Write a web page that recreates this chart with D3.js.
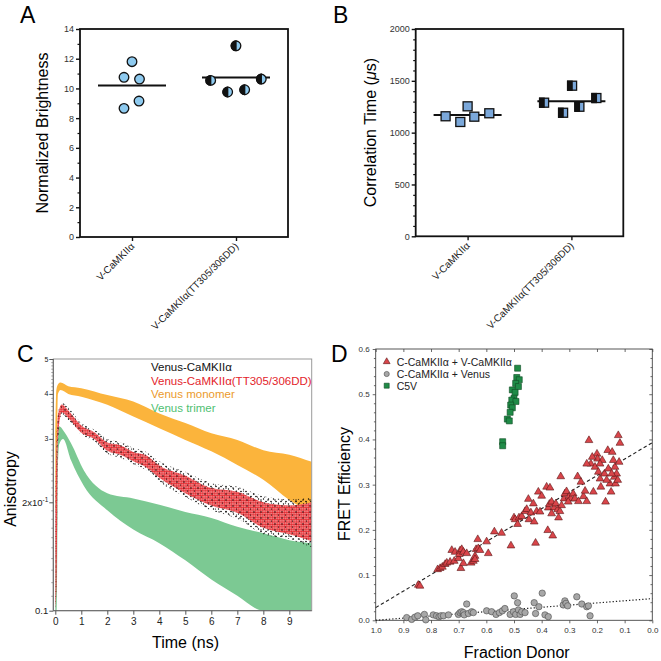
<!DOCTYPE html>
<html><head><meta charset="utf-8">
<script src="https://cdn.jsdelivr.net/npm/d3@7"></script>
<style>
body{margin:0;background:#fff}
svg{display:block}
text{font-family:"Liberation Sans",Arial,Helvetica,sans-serif}
</style>
</head><body>
<svg id="c" width="661" height="661"></svg>
<script>
// ================= DATA =================
// Panels A & B
const categories = ["V-CaMKIIα", "V-CaMKIIα(TT305/306DD)"];
const brightnessWT = [11.8, 10.75, 10.63, 9.15, 8.66];
const brightnessDD = [12.87, 10.54, 9.76, 9.91, 10.63];
const corrTimeWT = [1158, 1103, 1254, 1154, 1187];
const corrTimeDD = [1289, 1453, 1192, 1250, 1334];
const brightnessTicks = [0, 2, 4, 6, 8, 10, 12, 14];
const corrTimeTicks = [0, 500, 1000, 1500, 2000];

// Panel C : anisotropy decays (time in ns, lower / upper envelope of the noisy trace)
const monomerTime = [0, 0.04, 0.1, 0.2, 0.5, 1, 2, 3, 4, 5, 6, 7, 8, 9, 9.86];
const monomerLow  = [0.19, 0.19, 0.40, 0.41, 0.40, 0.393, 0.373, 0.346, 0.321, 0.298, 0.277, 0.254, 0.231, 0.203, 0.187];
const monomerHigh = [0.30, 0.41, 0.425, 0.43, 0.42, 0.415, 0.397, 0.381, 0.353, 0.332, 0.311, 0.298, 0.279, 0.271, 0.259];

const trimerTime = [0, 0.06, 0.1, 0.15, 0.3, 0.6, 1.1, 2, 3, 4, 5, 6, 7, 8, 9, 9.86];
const trimerLow  = [0.10, 0.10, 0.25, 0.29, 0.30, 0.262, 0.222, 0.19, 0.168, 0.154, 0.138, 0.122, 0.11, 0.10, 0.10, 0.10];
const trimerHigh = [0.16, 0.29, 0.315, 0.325, 0.317, 0.292, 0.245, 0.212, 0.205, 0.197, 0.188, 0.181, 0.171, 0.164, 0.157, 0.154];

const camkTime = [0, 0.05, 0.1, 0.25, 0.5, 1, 1.5, 2, 2.5, 3, 3.5, 4, 5, 6, 7, 8, 9, 9.86];
const camkWTLow  = [0.10, 0.12, 0.29, 0.352, 0.338, 0.308, 0.296, 0.273, 0.266, 0.255, 0.245, 0.228, 0.207, 0.19, 0.18, 0.163, 0.158, 0.15];
const camkWTHigh = [0.20, 0.30, 0.35, 0.378, 0.366, 0.332, 0.318, 0.30, 0.294, 0.283, 0.276, 0.26, 0.243, 0.226, 0.221, 0.208, 0.204, 0.206];
const camkDDLow  = [0.10, 0.12, 0.30, 0.355, 0.343, 0.312, 0.300, 0.278, 0.271, 0.26, 0.25, 0.234, 0.212, 0.196, 0.187, 0.17, 0.163, 0.156];
const camkDDHigh = [0.19, 0.29, 0.348, 0.374, 0.36, 0.327, 0.313, 0.293, 0.288, 0.276, 0.27, 0.253, 0.237, 0.219, 0.214, 0.2, 0.196, 0.2];

const timeTicks = [0, 1, 2, 3, 4, 5, 6, 7, 8, 9];
const anisoTicks = [0.1, 0.2, 0.3, 0.4, 0.5];
const anisoTickLabels = ["0.1", "2x10", "3", "4", "5"];

const legendC = ["Venus-CaMKIIα", "Venus-CaMKIIα(TT305/306DD)", "Venus monomer", "Venus trimer"];

// Panel D : FRET efficiency vs fraction donor
const cvDonor = [0.846,0.84,0.776,0.767,0.759,0.749,0.743,0.731,0.725,0.713,0.716,0.701,0.698,0.695,0.689,0.683,0.692,0.683,0.671,0.655,0.647,0.641,0.637,0.631,0.629,0.623,0.641,0.593,0.599,0.571,0.545,0.511,0.5,0.496,0.487,0.482,0.472,0.46,0.454,0.448,0.446,0.439,0.43,0.427,0.422,0.418,0.412,0.406,0.4,0.382,0.378,0.376,0.372,0.37,0.364,0.36,0.355,0.349,0.342,0.334,0.328,0.331,0.319,0.316,0.31,0.301,0.294,0.286,0.28,0.27,0.267,0.258,0.249,0.243,0.237,0.229,0.222,0.213,0.207,0.2,0.198,0.195,0.189,0.186,0.181,0.173,0.169,0.161,0.159,0.153,0.149,0.145,0.141,0.137,0.135,0.133,0.129,0.123,0.12,0.117,0.237,0.217,0.189,0.147,0.125,0.165,0.339,0.364,0.304];
const cvFret  = [0.078,0.076,0.1125,0.115,0.118,0.124,0.127,0.129,0.155,0.151,0.131,0.137,0.146,0.154,0.157,0.151,0.115,0.126,0.148,0.127,0.131,0.142,0.157,0.179,0.159,0.155,0.135,0.148,0.174,0.196,0.193,0.165,0.227,0.223,0.2125,0.227,0.23,0.241,0.2456,0.268,0.223,0.238,0.258,0.218,0.171,0.241,0.284,0.24,0.275,0.295,0.199,0.249,0.257,0.293,0.262,0.187,0.249,0.258,0.245,0.241,0.254,0.318,0.269,0.28,0.285,0.273,0.269,0.28,0.269,0.318,0.263,0.306,0.274,0.286,0.263,0.398,0.346,0.284,0.339,0.368,0.357,0.328,0.313,0.295,0.354,0.324,0.262,0.376,0.335,0.302,0.284,0.372,0.354,0.317,0.339,0.302,0.324,0.409,0.35,0.392,0.346,0.361,0.346,0.324,0.31,0.31,0.227,0.236,0.262];

const cvenDonor = [0.888,0.87,0.858,0.848,0.824,0.819,0.792,0.78,0.771,0.764,0.755,0.737,0.701,0.695,0.689,0.683,0.68,0.671,0.665,0.653,0.647,0.599,0.581,0.565,0.553,0.542,0.533,0.514,0.502,0.499,0.494,0.487,0.484,0.478,0.472,0.46,0.427,0.422,0.41,0.398,0.388,0.376,0.322,0.316,0.312,0.306,0.273,0.255,0.237,0.231,0.225];
const cvenFret  = [0.006,0.002,0.007,0.01,0.013,0.001,0.012,0.01,0.008,0.01,0.01,0.012,0.013,0.017,0.019,0.017,0.012,0.036,0.015,0.019,0.017,0.021,0.019,0.013,0.017,0.021,0.026,0.013,0.019,0.054,0.013,0.039,0.023,0.013,0.019,0.017,0.039,0.015,0.03,0.06,0.012,0.008,0.034,0.043,0.0375,0.032,0.052,0.036,0.03,0.032,0.01];

const c5vDonor = [0.487,0.49,0.481,0.494,0.484,0.506,0.496,0.5,0.508,0.493,0.512,0.506,0.514,0.524,0.517,0.541,0.541];
const c5vFret  = [0.5575,0.537,0.532,0.524,0.517,0.5095,0.504,0.491,0.487,0.484,0.476,0.47,0.46,0.445,0.441,0.395,0.386];

const fitLineCV    = [[1.0, 0.028], [0.0, 0.393]];
const fitLineCVenus = [[1.0, 0.0], [0.0, 0.048]];

const donorTicks = [1.0, 0.9, 0.8, 0.7, 0.6, 0.5, 0.4, 0.3, 0.2, 0.1, 0.0];
const fretTicks = [0.0, 0.1, 0.2, 0.3, 0.4, 0.5, 0.6];
const legendD = ["C-CaMKIIα + V-CaMKIIα", "C-CaMKIIα + Venus", "C5V"];

// ================= DRAWING =================
const svg = d3.select("#c");
const defs = svg.append("defs");

function letter(t, x, y) {
  svg.append("text").attr("x", x).attr("y", y).attr("font-size", 23).attr("fill", "#000").text(t);
}
function styleAxis(g, fs, col) {
  g.select(".domain").remove();
  g.selectAll(".tick text").attr("font-size", fs).attr("fill", col || "#222")
    .attr("font-family", '"Liberation Sans",Arial,sans-serif');
  g.selectAll(".tick line").attr("stroke", "#111");
}

// ---------- Panel A & B (dot plots) ----------
function dotPanel(opts) {
  const { x0, x1, yTop, yBot, domainMax, ticks, minor, wt, dd, shape, fill, jWT, jDD, ylabel, ylx } = opts;
  const xs = d3.scalePoint().domain(categories).range([x0, x1]).padding(0.5);
  const ys = d3.scaleLinear().domain([0, domainMax]).range([yBot, yTop]);
  const g = svg.append("g");
  const ya = g.append("g").attr("transform", `translate(${x0},0)`)
    .call(d3.axisLeft(ys).tickValues(ticks).tickSize(4).tickPadding(2).tickFormat(d3.format("d")));
  styleAxis(ya, 9, "#333");
  ya.selectAll(".tick line").attr("stroke-width", 1.4);
  const ym = g.append("g").attr("transform", `translate(${x0},0)`)
    .call(d3.axisLeft(ys).tickValues(minor).tickSize(2.5).tickFormat(""));
  styleAxis(ym, 9);
  ym.selectAll(".tick line").attr("stroke-width", 1.2);
  const xa = g.append("g").attr("transform", `translate(0,${yBot})`)
    .call(d3.axisBottom(xs).tickSize(4).tickFormat(""));
  styleAxis(xa, 9);
  xa.selectAll(".tick line").attr("stroke-width", 1.4);
  categories.forEach(c => {
    g.append("text").attr("transform", `translate(${xs(c) + 3},${yBot + 10}) rotate(-45)`)
      .attr("text-anchor", "end").attr("font-size", 10).attr("fill", "#222").text(c);
  });
  g.append("rect").attr("x", x0).attr("y", yTop).attr("width", x1 - x0).attr("height", yBot - yTop)
    .attr("fill", "none").attr("stroke", "#111").attr("stroke-width", 1.8);
  g.append("text").attr("transform", `translate(${ylx},${(yTop + yBot) / 2}) rotate(-90)`)
    .attr("text-anchor", "middle").attr("font-size", 16).attr("fill", "#000").html(ylabel);
  [[wt, categories[0]], [dd, categories[1]]].forEach(([arr, c]) => {
    const m = d3.mean(arr);
    g.append("line").attr("x1", xs(c) - 34).attr("x2", xs(c) + 34).attr("y1", ys(m)).attr("y2", ys(m))
      .attr("stroke", "#111").attr("stroke-width", 2);
  });
  function marker(cx, cy, half) {
    if (shape === "circle") {
      const r = 4.8;
      g.append("circle").attr("cx", cx).attr("cy", cy).attr("r", r).attr("fill", fill).attr("stroke", "#111").attr("stroke-width", 1.3);
      if (half) g.append("path").attr("d", `M${cx},${cy - r}A${r},${r} 0 0 0 ${cx},${cy + r}Z`).attr("fill", "#111").attr("stroke", "#111").attr("stroke-width", 1.3);
    } else {
      const s = 9;
      g.append("rect").attr("x", cx - s / 2).attr("y", cy - s / 2).attr("width", s).attr("height", s).attr("fill", fill).attr("stroke", "#111").attr("stroke-width", 1.3);
      if (half) g.append("rect").attr("x", cx - s / 2).attr("y", cy - s / 2).attr("width", s / 2).attr("height", s).attr("fill", "#111").attr("stroke", "#111").attr("stroke-width", 1.3);
    }
  }
  wt.forEach((v, i) => marker(xs(categories[0]) + jWT[i], ys(v), false));
  dd.forEach((v, i) => marker(xs(categories[1]) + jDD[i], ys(v), true));
}

dotPanel({ x0: 80, x1: 288, yTop: 29, yBot: 237, domainMax: 14, ticks: brightnessTicks,
  minor: [1, 3, 5, 7, 9, 11, 13], wt: brightnessWT, dd: brightnessDD, shape: "circle", fill: "#8ecaef",
  jWT: [0, -8, 7.5, 7, -8], jDD: [0, -25.3, -8.3, 8.7, 25.3],
  ylabel: "Normalized Brightness", ylx: 48 });
dotPanel({ x0: 415.7, x1: 623.3, yTop: 29, yBot: 236.3, domainMax: 2000, ticks: corrTimeTicks,
  minor: d3.range(100, 2000, 100).filter(v => v % 500 !== 0), wt: corrTimeWT, dd: corrTimeDD, shape: "square", fill: "#7ba8da",
  jWT: [-22, -7.3, 0, 6.7, 21.7], jDD: [-27.3, 0.7, -8.3, 8, 25],
  ylabel: 'Correlation Time (<tspan font-style="italic">μ</tspan>s)', ylx: 376 });
letter("A", 20, 23);
letter("B", 333, 23);

// ---------- Panel C ----------
{
  const L = 53.3, R = 311.7, T = 359, B = 610.7;
  const xs = d3.scaleLinear().domain([-0.077, 9.86]).range([L, R]);
  const ys = d3.scaleLog().domain([0.1, 0.5]).range([B, T]);
  defs.append("clipPath").attr("id", "clipC").append("rect").attr("x", L).attr("y", T).attr("width", R - L).attr("height", B - T);
  const pb = defs.append("pattern").attr("id", "patBlack").attr("width", 5).attr("height", 5).attr("patternUnits", "userSpaceOnUse");
  pb.append("circle").attr("cx", 1).attr("cy", 1.5).attr("r", 0.8).attr("fill", "#000");
  pb.append("circle").attr("cx", 3.5).attr("cy", 4).attr("r", 0.7).attr("fill", "#000");
  const pr = defs.append("pattern").attr("id", "patRed").attr("width", 2.4).attr("height", 2.4).attr("patternUnits", "userSpaceOnUse");
  pr.append("rect").attr("width", 2.4).attr("height", 2.4).attr("fill", "#f4a3a3");
  pr.append("circle").attr("cx", 1.2).attr("cy", 1.2).attr("r", 1.05).attr("fill", "#e3242b");
  const pb2 = defs.append("pattern").attr("id", "patBlack2").attr("width", 7).attr("height", 6).attr("patternUnits", "userSpaceOnUse");
  pb2.append("circle").attr("cx", 2).attr("cy", 2).attr("r", 0.7).attr("fill", "#000");
  pb2.append("circle").attr("cx", 5.5).attr("cy", 5).attr("r", 0.6).attr("fill", "#000");

  const g = svg.append("g");
  const plot = g.append("g").attr("clip-path", "url(#clipC)");
  function band(time, lo, hi, fill) {
    const data = time.map((t, i) => ({ t, lo: lo[i], hi: hi[i] }));
    plot.append("path").datum(data)
      .attr("d", d3.area().x(d => xs(d.t)).y0(d => ys(d.lo)).y1(d => ys(d.hi)).curve(d3.curveMonotoneX))
      .attr("fill", fill);
  }
  band(monomerTime, monomerLow, monomerHigh, "#fbb43c");
  band(trimerTime, trimerLow, trimerHigh, "#7cc993");
  band(camkTime, camkWTLow, camkWTHigh, "url(#patBlack)");
  band(camkTime, camkDDLow, camkDDHigh, "url(#patRed)");
  band(camkTime, camkWTLow, camkWTHigh, "url(#patBlack2)");

  g.append("rect").attr("x", L).attr("y", T).attr("width", R - L).attr("height", B - T)
    .attr("fill", "none").attr("stroke", "#9a9a9a").attr("stroke-width", 1);
  g.append("line").attr("x1", L).attr("x2", L).attr("y1", T).attr("y2", B).attr("stroke", "#666");
  g.append("line").attr("x1", L).attr("x2", R).attr("y1", B).attr("y2", B).attr("stroke", "#666");

  const xa = g.append("g").attr("transform", `translate(0,${B})`)
    .call(d3.axisBottom(xs).tickValues(timeTicks).tickSize(4).tickPadding(3).tickFormat(d3.format("d")));
  styleAxis(xa, 10, "#222");
  xa.selectAll(".tick line").attr("stroke", "#555");
  const minorAniso = d3.range(11, 50).map(v => v / 100).filter(v => Math.round(v * 100) % 10 !== 0);
  const ym = g.append("g").attr("transform", `translate(${L},0)`)
    .call(d3.axisLeft(ys).tickValues(minorAniso).tickSize(2).tickFormat(""));
  styleAxis(ym, 8);
  ym.selectAll(".tick line").attr("stroke", "#777").attr("stroke-width", 0.7);
  const ya = g.append("g").attr("transform", `translate(${L},0)`)
    .call(d3.axisLeft(ys).tickValues(anisoTicks).tickSize(4).tickFormat(""));
  styleAxis(ya, 8);
  ya.selectAll(".tick line").attr("stroke", "#555");
  anisoTicks.forEach((v, i) => {
    const small = i >= 2;
    const t = g.append("text").attr("x", L - 5).attr("y", ys(v) + (small ? 2.5 : 3.5))
      .attr("text-anchor", "end").attr("font-size", small ? 7 : 9.5).attr("fill", "#222").text(anisoTickLabels[i]);
    if (i === 1) t.append("tspan").attr("dy", -4).attr("font-size", 6.5).text("-1");
  });
  g.append("text").attr("x", (L + R) / 2 + 3).attr("y", 648).attr("text-anchor", "middle").attr("font-size", 16).text("Time (ns)");
  g.append("text").attr("transform", `translate(16,489) rotate(-90)`).attr("text-anchor", "middle").attr("font-size", 16).text("Anisotropy");
  const legCol = ["#111", "#e3242b", "#eb9a2c", "#4fbf72"];
  const legY = [371, 385, 398, 411.5];
  legendC.forEach((s, i) => {
    g.append("text").attr("x", 151).attr("y", legY[i]).attr("font-size", 11.5).attr("fill", legCol[i]).text(s);
  });
  letter("C", 17, 362);
}

// ---------- Panel D ----------
{
  const L = 375.7, R = 652.3, T = 349, B = 620.3;
  const xs = d3.scaleLinear().domain([1, 0]).range([L, R]);
  const ys = d3.scaleLinear().domain([0, 0.6]).range([B, T]);
  const g = svg.append("g");
  const minorF = d3.range(1, 30).map(v => v * 0.02).filter(v => Math.round(v * 100) % 10 !== 0);

  const xa = g.append("g").attr("transform", `translate(0,${B})`)
    .call(d3.axisBottom(xs).tickValues(donorTicks).tickSize(3).tickPadding(4).tickFormat(d3.format(".1f")));
  styleAxis(xa, 8, "#333");
  const xt = g.append("g").attr("transform", `translate(0,${T})`)
    .call(d3.axisBottom(xs).tickValues(donorTicks).tickSize(3).tickFormat(""));
  styleAxis(xt, 8);
  const ya = g.append("g").attr("transform", `translate(${L},0)`)
    .call(d3.axisLeft(ys).tickValues(fretTicks).tickSize(3).tickPadding(3).tickFormat(d3.format(".1f")));
  styleAxis(ya, 8, "#333");
  const yam = g.append("g").attr("transform", `translate(${L},0)`)
    .call(d3.axisLeft(ys).tickValues(minorF).tickSize(1.8).tickFormat(""));
  styleAxis(yam, 8);
  const yr = g.append("g").attr("transform", `translate(${R},0)`)
    .call(d3.axisLeft(ys).tickValues(fretTicks).tickSize(3).tickFormat(""));
  styleAxis(yr, 8);
  const yrm = g.append("g").attr("transform", `translate(${R},0)`)
    .call(d3.axisLeft(ys).tickValues(minorF).tickSize(1.8).tickFormat(""));
  styleAxis(yrm, 8);
  [xa, xt, ya, yam, yr, yrm].forEach(a => a.selectAll(".tick line").attr("stroke", "#444").attr("stroke-width", 0.8));

  g.append("rect").attr("x", L).attr("y", T).attr("width", R - L).attr("height", B - T)
    .attr("fill", "none").attr("stroke", "#444").attr("stroke-width", 0.9);

  const line = d3.line().x(d => xs(d[0])).y(d => ys(d[1]));
  g.append("path").datum(fitLineCV).attr("d", line).attr("stroke", "#222").attr("stroke-width", 1.1)
    .attr("stroke-dasharray", "3.5,2.5").attr("fill", "none");
  g.append("path").datum(fitLineCVenus).attr("d", line).attr("stroke", "#222").attr("stroke-width", 1.2)
    .attr("stroke-dasharray", "1.3,2").attr("fill", "none");

  const tri = d3.symbol().type(d3.symbolTriangle).size(26);
  const sq = d3.symbol().type(d3.symbolSquare).size(36);
  cvenDonor.forEach((f, i) => {
    g.append("circle").attr("cx", xs(f)).attr("cy", ys(cvenFret[i])).attr("r", 3.2)
      .attr("fill", "#a7a7a7").attr("stroke", "#4a4a4a").attr("stroke-width", 0.6);
  });
  cvDonor.forEach((f, i) => {
    g.append("path").attr("d", tri).attr("transform", `translate(${xs(f)},${ys(cvFret[i])})`)
      .attr("fill", "#d9454a").attr("stroke", "#5a1515").attr("stroke-width", 0.6);
  });
  c5vDonor.forEach((f, i) => {
    g.append("path").attr("d", sq).attr("transform", `translate(${xs(f)},${ys(c5vFret[i])})`)
      .attr("fill", "#1f8b47").attr("stroke", "#0d4a22").attr("stroke-width", 0.6);
  });

  const lx = 386.7, ly = [361.7, 374, 385.7];
  g.append("path").attr("d", d3.symbol().type(d3.symbolTriangle).size(20)).attr("transform", `translate(${lx},${ly[0]})`)
    .attr("fill", "#d9454a").attr("stroke", "#5a1515").attr("stroke-width", 0.6);
  g.append("circle").attr("cx", lx).attr("cy", ly[1]).attr("r", 2.6).attr("fill", "#a7a7a7").attr("stroke", "#4a4a4a").attr("stroke-width", 0.6);
  g.append("path").attr("d", d3.symbol().type(d3.symbolSquare).size(25)).attr("transform", `translate(${lx},${ly[2]})`)
    .attr("fill", "#1f8b47").attr("stroke", "#0d4a22").attr("stroke-width", 0.6);
  legendD.forEach((s, i) => {
    g.append("text").attr("x", 396.7).attr("y", ly[i] + 3.8).attr("font-size", 10.5).attr("fill", "#222").text(s);
  });

  g.append("text").attr("x", 516.7).attr("y", 657.5).attr("text-anchor", "middle").attr("font-size", 16).text("Fraction Donor");
  g.append("text").attr("transform", `translate(350,484) rotate(-90)`).attr("text-anchor", "middle").attr("font-size", 16).text("FRET Efficiency");
  letter("D", 331, 362);
}
</script>
</body></html>
